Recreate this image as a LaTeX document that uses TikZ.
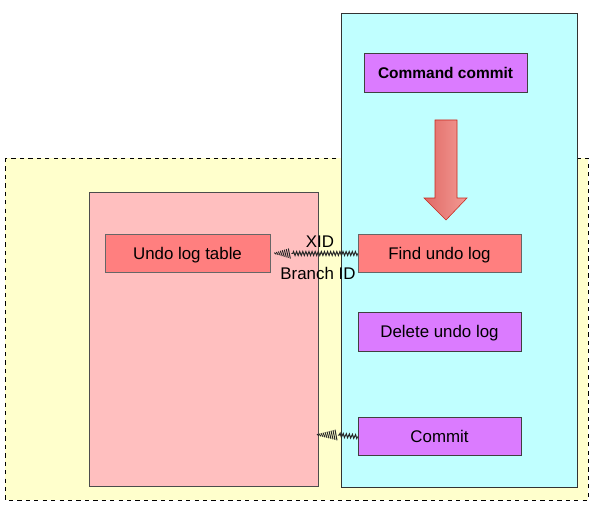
\documentclass[tikz,border=0pt]{standalone}
\usepackage{fontspec}
\setmainfont{Liberation Sans}
\usetikzlibrary{positioning, calc, decorations.pathmorphing}

\definecolor{yellowbg}{HTML}{FFFFCC}
\definecolor{cyanbg}{HTML}{C0FFFF}
\definecolor{pinkbg}{HTML}{FFBFBF}
\definecolor{redbox}{HTML}{FF7F7F}
\definecolor{violetbox}{HTML}{DB7BFF}
\definecolor{arrowdark}{HTML}{E06A66}
\definecolor{arrowlight}{HTML}{F39A94}
\definecolor{arrowedge}{HTML}{C8281E}

\begin{document}
\begin{tikzpicture}[x=0.025cm, y=-0.025cm,
    stepbox/.style={draw=black!75, minimum width=4.075cm, minimum height=0.95cm,
      inner sep=0pt, text height=1.75ex, text depth=0.05ex,
      font=\fontsize{12}{14}\selectfont},
    hatch/.style={draw=black!85, line width=0.7pt},
    hatchshaft/.style={hatch, decorate,
      decoration={zigzag, segment length=2.2pt, amplitude=1.4pt}}]
  \useasboundingbox (0,0) rectangle (590,505);

  % areas
  \draw[fill=yellowbg, dashed, thin] (5,158) rectangle (588,500);
  \draw[fill=pinkbg, draw=black!70] (89,192) rectangle (318,486);
  \draw[fill=cyanbg, draw=black!80] (341,13) rectangle (577,487);

  % steps
  \node[stepbox, fill=violetbox, font=\fontsize{11}{13}\selectfont\bfseries,
    minimum height=0.975cm] (cmd) at (445.5,72.5) {Command commit};
  \node[stepbox, fill=redbox, draw=black!60] (find) at (439.5,253.5) {Find undo log};
  \node[stepbox, fill=violetbox, minimum height=0.975cm,
    below=0.975cm of find] (delete) {Delete undo log};
  \node[stepbox, fill=violetbox, below=1.65cm of delete] (commit) {Commit};
  \node[stepbox, fill=redbox, draw=black!60, minimum width=4.125cm]
    (table) at (187.5,253.5) {Undo log table};

  % big arrow
  \draw[left color=arrowdark, right color=arrowlight, draw=arrowedge]
    (435,120) -- (457,120) -- (457,198) -- (467,198) -- (446,220)
    -- (424,198) -- (435,198) -- cycle;

  % hatched connectors
  \coordinate (xidtip) at ($(table.east)+(5,0)$);
  \draw[hatchshaft] (find.west) -- ($(xidtip)+(16,0)$);
  \foreach \i in {0,...,7}
    \draw[hatch] ($(xidtip)+(2*\i-1,-0.6*\i-0.8)$) -- ++(2,1.2*\i+1.6);

  \coordinate (committip) at (318,435);
  \draw[hatchshaft] (commit.west) -- ($(committip)+(20,0)$);
  \foreach \i in {0,...,9}
    \draw[hatch] ($(committip)+(2*\i-1,-0.5*\i-0.8)$) -- ++(2,1.0*\i+1.6);

  \node[font=\fontsize{12}{14}\selectfont] (xid) at (320,242) {XID};
  \node[font=\fontsize{12}{14}\selectfont] (branch) at (318,273) {Branch ID};
\end{tikzpicture}
\end{document}
